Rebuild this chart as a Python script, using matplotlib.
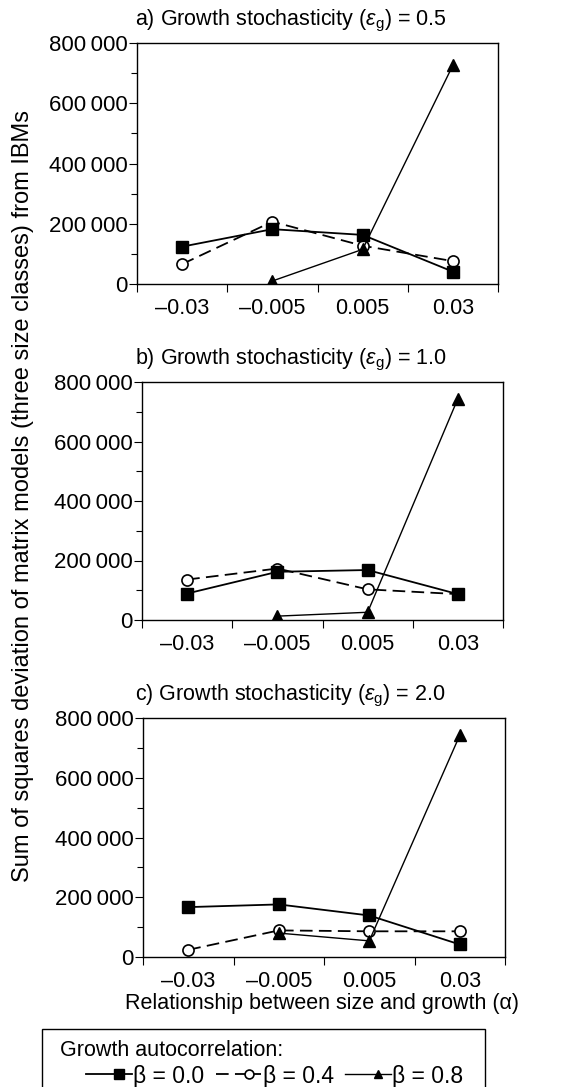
import numpy as np
import matplotlib.pyplot as plt
from matplotlib.patches import Rectangle
from matplotlib.legend_handler import HandlerLine2D
from matplotlib.ticker import FixedLocator, MultipleLocator, FuncFormatter

plt.rcParams['font.family'] = ['Liberation Sans', 'DejaVu Sans']
plt.rcParams['mathtext.fontset'] = 'custom'
plt.rcParams['mathtext.rm'] = 'Liberation Sans'
plt.rcParams['mathtext.it'] = 'Liberation Sans:italic'

# data
alpha_labels = ['\u20130.03', '\u20130.005', '0.005', '0.03']
panel_titles = [
    r'a) Growth stochasticity ($\varepsilon_{\mathrm{g}}$) = 0.5',
    r'b) Growth stochasticity ($\varepsilon_{\mathrm{g}}$) = 1.0',
    r'c) Growth stochasticity ($\varepsilon_{\mathrm{g}}$) = 2.0',
]
beta_labels = ['\u03b2 = 0.0', '\u03b2 = 0.4', '\u03b2 = 0.8']

beta00_a = [124000, 182000, 163000, 41000]
beta04_a = [66000, 207000, 127000, 76000]
beta08_a = [np.nan, 10000, 115000, 726000]

beta00_b = [89000, 162000, 168000, 87000]
beta04_b = [136000, 173000, 103000, 87000]
beta08_b = [np.nan, 13000, 26000, 744000]

beta00_c = [167000, 176000, 139000, 42000]
beta04_c = [24000, 89000, 86000, 86000]
beta08_c = [np.nan, 80000, 54000, 742000]

W, H = 582, 1087
fig = plt.figure(figsize=(W / 100, H / 100), dpi=100)

# axes boxes in pixels: left, top, right, bottom
boxes = [(137, 43, 498, 284), (142, 382, 503, 620), (143, 718, 505, 957)]
data = [(beta00_a, beta04_a, beta08_a),
        (beta00_b, beta04_b, beta08_b),
        (beta00_c, beta04_c, beta08_c)]

x = np.arange(len(alpha_labels))
fs = 15.5


def fmt(v, pos):
    s = '%d' % v
    if len(s) > 3:
        s = s[:-3] + '\u2009' + s[-3:]
    return s


class MarkerRight(HandlerLine2D):
    # legend key with the marker pushed towards the right end of the line
    def create_artists(self, legend, orig_handle, xdescent, ydescent,
                       width, height, fontsize, trans):
        arts = super().create_artists(legend, orig_handle, xdescent, ydescent,
                                      width, height, fontsize, trans)
        line = arts[0]
        xd = np.asarray(line.get_xdata(), dtype=float)
        yd = np.asarray(line.get_ydata(), dtype=float)
        x0, x1 = xd[0], xd[-1]
        line.set_data([x0, x0 + 0.72 * (x1 - x0), x1], [yd[0]] * 3)
        line.set_markevery([1])
        return arts


for (l, t, r, b), (s0, s4, s8), title in zip(boxes, data, panel_titles):
    ax = fig.add_axes([l / W, 1 - b / H, (r - l) / W, (b - t) / H])
    h0, = ax.plot(x, s0, '-', color='black', lw=1.3, marker='s', ms=8.5,
                  mfc='black', mec='black', zorder=3)
    h4, = ax.plot(x, s4, '--', color='black', lw=1.3, marker='o', ms=8,
                  mfc='white', mec='black', mew=1.2, dashes=(7, 3.5), zorder=2)
    h8, = ax.plot(x, s8, '-', color='black', lw=1.0, marker='^', ms=8,
                  mfc='black', mec='black', zorder=4)
    ax.set_xlim(-0.5, 3.5)
    ax.set_ylim(0, 800000)
    ax.xaxis.set_major_locator(FixedLocator([-0.5, 0.5, 1.5, 2.5, 3.5]))
    ax.xaxis.set_minor_locator(FixedLocator(x))
    ax.set_xticklabels([])
    ax.set_xticklabels(alpha_labels, minor=True)
    ax.tick_params(axis='x', which='major', direction='out', length=6, width=0.8)
    ax.tick_params(axis='x', which='minor', length=0, pad=10, labelsize=fs)
    ax.yaxis.set_major_locator(MultipleLocator(200000))
    ax.yaxis.set_minor_locator(MultipleLocator(100000))
    ax.yaxis.set_major_formatter(FuncFormatter(fmt))
    ax.tick_params(axis='y', which='major', direction='out', length=6, width=0.8,
                   pad=1, labelsize=16)
    ax.tick_params(axis='y', which='minor', direction='out', length=4, width=0.8)
    for sp in ax.spines.values():
        sp.set_linewidth(1.0)
    fig.text(135 / W, 1 - (t - 18) / H, title, ha='left', va='baseline',
             fontsize=fs)
    handles = (h0, h4, h8)

fig.text(23 / W, 1 - 496 / H,
         'Sum of squares deviation of matrix models (three size classes) from IBMs',
         rotation=90, ha='center', va='center', fontsize=17)
fig.text(322 / W, 1 - 1003 / H, 'Relationship between size and growth (\u03b1)',
         ha='center', va='center', fontsize=fs)

# legend box (runs off the bottom edge)
fig.patches.append(Rectangle((42 / W, -0.02), (485 - 42) / W, 0.02 + 1 - 1029 / H,
                             transform=fig.transFigure, fill=False,
                             edgecolor='black', lw=1.0, clip_on=False))
fig.text(60 / W, 1 - 1051 / H, 'Growth autocorrelation:', ha='left', va='center',
         fontsize=fs)
fig.legend(handles, beta_labels, loc='center left',
           bbox_to_anchor=(86 / W, 1 - 1076 / H), ncol=3, frameon=False,
           fontsize=16.5, handlelength=2.0, handletextpad=0.05, columnspacing=0.5,
           borderpad=0, borderaxespad=0, markerscale=0.8,
           handler_map={h: MarkerRight() for h in handles})

fig.savefig('out.png', dpi=100)
